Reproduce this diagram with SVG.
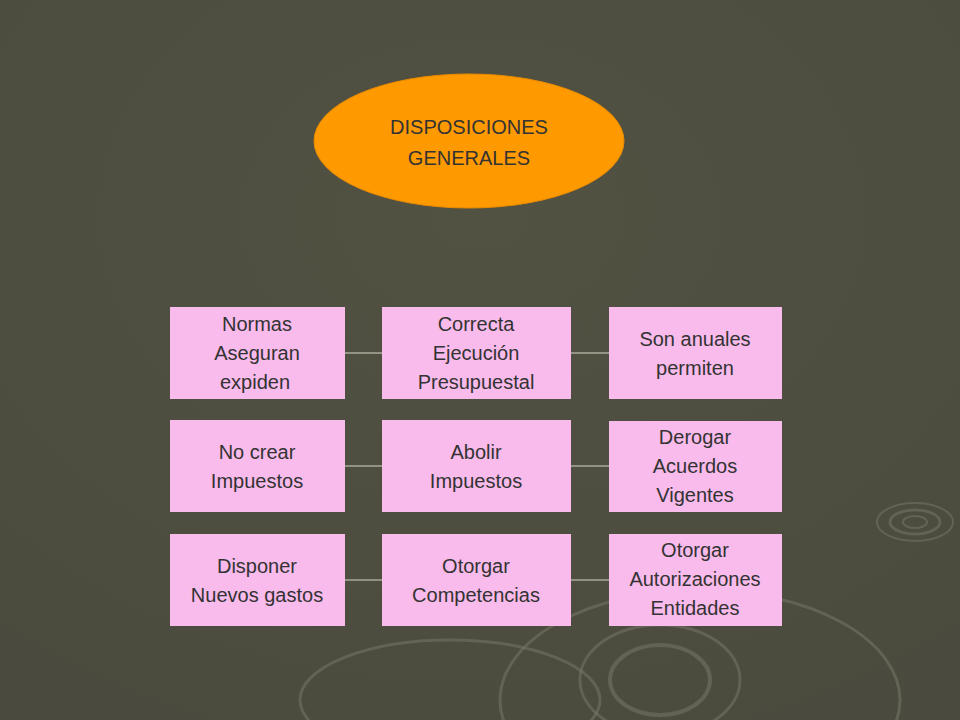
<svg xmlns="http://www.w3.org/2000/svg" width="960" height="720" viewBox="0 0 960 720">
<defs>
<radialGradient id="bg" cx="0.5" cy="0.3" r="0.8"><stop offset="0" stop-color="#525243"/><stop offset="1" stop-color="#4a4a3e"/></radialGradient>
<style>
.box{fill:#F9BBEB}
.t{font-family:"Liberation Sans",Arial,sans-serif;font-size:20px;fill:#333;text-anchor:middle}
.c{stroke:#d8d8c8;stroke-width:1}
.r{fill:none;stroke:#7a7a6c;stroke-opacity:0.5}
</style>
</defs>
<rect width="960" height="720" fill="url(#bg)"/>
<g id="deco">
<ellipse class="r" cx="915" cy="522" rx="12" ry="6" stroke-width="2"/>
<ellipse class="r" cx="915" cy="522" rx="25" ry="12" stroke-width="3"/>
<ellipse class="r" cx="915" cy="522" rx="38" ry="19" stroke-width="2"/>
<ellipse class="r" cx="660" cy="680" rx="50" ry="35" stroke-width="4"/>
<ellipse class="r" cx="660" cy="680" rx="80" ry="55" stroke-width="3"/>
<ellipse class="r" cx="700" cy="700" rx="200" ry="110" stroke-width="3"/>
<ellipse class="r" cx="450" cy="700" rx="150" ry="60" stroke-width="3"/>
</g>
<g id="connectors">
<line class="c" x1="345" y1="353" x2="382" y2="353"/>
<line class="c" x1="571" y1="353" x2="609" y2="353"/>
<line class="c" x1="345" y1="466" x2="382" y2="466"/>
<line class="c" x1="571" y1="466" x2="609" y2="466"/>
<line class="c" x1="345" y1="580" x2="382" y2="580"/>
<line class="c" x1="571" y1="580" x2="609" y2="580"/>
</g>
<g id="root">
<ellipse cx="469" cy="141" rx="155" ry="67" fill="#FF9900" stroke="#e88a00"/>
<text class="t" x="469" y="134">DISPOSICIONES</text>
<text class="t" x="469" y="165">GENERALES</text>
</g>
<g id="n1"><rect class="box" x="170" y="307" width="175" height="92"/>
<text class="t" x="257" y="331">Normas</text><text class="t" x="257" y="360">Aseguran</text><text class="t" x="255" y="389">expiden</text></g>
<g id="n2"><rect class="box" x="382" y="307" width="189" height="92"/>
<text class="t" x="476" y="331">Correcta</text><text class="t" x="476" y="360">Ejecución</text><text class="t" x="476" y="389">Presupuestal</text></g>
<g id="n3"><rect class="box" x="609" y="307" width="173" height="92"/>
<text class="t" x="695" y="346">Son anuales</text><text class="t" x="695" y="375">permiten</text></g>
<g id="n4"><rect class="box" x="170" y="420" width="175" height="92"/>
<text class="t" x="257" y="459">No crear</text><text class="t" x="257" y="488">Impuestos</text></g>
<g id="n5"><rect class="box" x="382" y="420" width="189" height="92"/>
<text class="t" x="476" y="459">Abolir</text><text class="t" x="476" y="488">Impuestos</text></g>
<g id="n6"><rect class="box" x="609" y="421" width="173" height="91"/>
<text class="t" x="695" y="444">Derogar</text><text class="t" x="695" y="473">Acuerdos</text><text class="t" x="695" y="502">Vigentes</text></g>
<g id="n7"><rect class="box" x="170" y="534" width="175" height="92"/>
<text class="t" x="257" y="573">Disponer</text><text class="t" x="257" y="602">Nuevos gastos</text></g>
<g id="n8"><rect class="box" x="382" y="534" width="189" height="92"/>
<text class="t" x="476" y="573">Otorgar</text><text class="t" x="476" y="602">Competencias</text></g>
<g id="n9"><rect class="box" x="609" y="534" width="173" height="92"/>
<text class="t" x="695" y="557">Otorgar</text><text class="t" x="695" y="586">Autorizaciones</text><text class="t" x="695" y="615">Entidades</text></g>
</svg>
